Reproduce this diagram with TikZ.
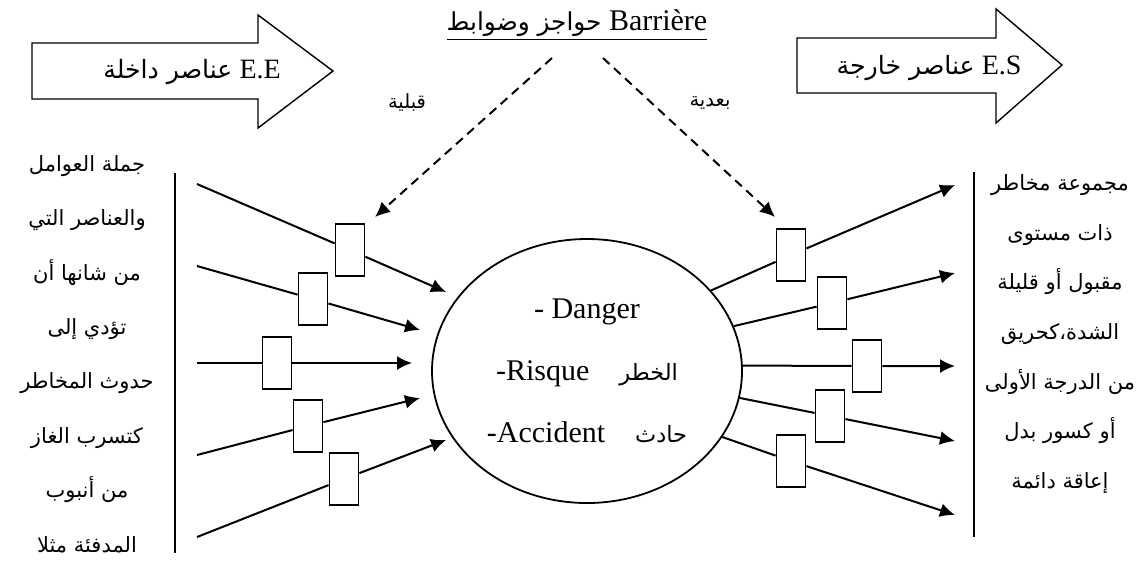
\documentclass[tikz,border=0pt]{standalone}
\usepackage{fontspec}
\setmainfont{Liberation Serif}
\newfontfamily\arabicfont[Script=Arabic,Scale=0.75]{DejaVu Sans}
\TeXXeTstate=1
\usetikzlibrary{shapes.geometric,arrows.meta}
\newcommand\artext[1]{{\arabicfont\beginR#1\endR}}
\tikzset{
  flow/.style={line width=1pt,-{Latex[length=7.5pt,width=7pt]}},
  barrier/.style={flow,dash pattern=on 4.5pt off 3pt},
  gate/.style={draw,line width=0.9pt,fill=white,minimum width=14.5pt,minimum height=26pt,inner sep=0pt},
  bigarrow/.style={line width=0.7pt},
  rulebar/.style={line width=1pt},
}
\begin{document}
\begin{tikzpicture}[x=0.5pt,y=-0.5pt]
  \useasboundingbox (0,0) rectangle (1144,564);
  % entering and leaving elements
  \draw[bigarrow] (32,43) -- (258,43) -- (258,15) -- (333,71) -- (258,128) -- (258,99) -- (32,99) -- cycle;
  \draw[bigarrow] (797,38) -- (996,38) -- (996,9) -- (1062,65) -- (996,123) -- (996,93) -- (797,93) -- cycle;
  \node[font=\fontsize{14}{16}\selectfont] (inlabel) at (192,72) {\artext{\fontsize{16.8}{19}\selectfont عناصر داخلة} E.E};
  \node[font=\fontsize{14}{16}\selectfont] (outlabel) at (929,68) {\artext{\fontsize{16.8}{19}\selectfont عناصر خارجة} E.S};
  % barrier title
  \node[font=\fontsize{15}{17}\selectfont] (title) at (577,25) {\underline{\artext{\fontsize{16.5}{19}\selectfont حواجز وضوابط} Barrière}};
  \coordinate (bl) at (552,58);
  \coordinate (br) at (603,58);
  \coordinate (pre) at (375,217);
  \coordinate (post) at (775,217);
  \node[font=\fontsize{13}{15}\selectfont] (before) at (407,103) {\artext{قبلية}};
  \node[font=\fontsize{13}{15}\selectfont] (after) at (710,103) {\artext{بعدية}};
  % central event
  \node[ellipse,draw,line width=0.9pt,minimum width=155pt,minimum height=132pt,inner sep=0pt,
        align=center,font=\fontsize{15}{31}\selectfont] (core) at (587,371)
    {- Danger\\-Risque\quad\artext{الخطر}\\-Accident\quad\artext{حادث}};
  % side texts
  \draw[rulebar] (175,173) -- (175,553);
  \draw[rulebar] (974,172) -- (974,537);
  \node[align=center,font=\fontsize{14}{27.2}\selectfont] (causes) at (87,354)
    {\artext{جملة العوامل}\\\artext{والعناصر التي}\\\artext{من شانها أن}\\\artext{تؤدي إلى}\\
     \artext{حدوث المخاطر}\\\artext{كتسرب الغاز}\\\artext{من أنبوب}\\\artext{المدفئة مثلا}};
  \node[align=center,font=\fontsize{14}{24.8}\selectfont] (effects) at (1060,334)
    {\artext{مجموعة مخاطر}\\\artext{ذات مستوى}\\\artext{مقبول أو قليلة}\\\artext{الشدة،كحريق}\\
     \artext{من الدرجة الأولى}\\\artext{أو كسور بدل}\\\artext{إعاقة دائمة}};
  % incoming flows
  \coordinate (i1) at (197,184);
  \coordinate (i2) at (197,266);
  \coordinate (i3) at (197,363);
  \coordinate (i4) at (197,455);
  \coordinate (i5) at (197,537);
  \coordinate (t1) at (446,292);
  \coordinate (t2) at (420,330);
  \coordinate (t3) at (412,363);
  \coordinate (t4) at (420,398);
  \coordinate (t5) at (446,440);
  \node[gate] (g1) at (350,250) {};
  \node[gate] (g2) at (313,299) {};
  \node[gate] (g3) at (277,363) {};
  \node[gate] (g4) at (308,426) {};
  \node[gate] (g5) at (344,479) {};
  \draw[flow] (i1) -- (g1) -- (t1);
  \draw[flow] (i2) -- (g2) -- (t2);
  \draw[flow] (i3) -- (g3) -- (t3);
  \draw[flow] (i4) -- (g4) -- (t4);
  \draw[flow] (i5) -- (g5) -- (t5);
  % outgoing flows
  \coordinate (o1) at (955,185);
  \coordinate (o2) at (955,273);
  \coordinate (o3) at (955,366);
  \coordinate (o4) at (955,441);
  \coordinate (o5) at (955,515);
  \node[gate] (g6) at (791,255) {};
  \node[gate] (g7) at (832,303) {};
  \node[gate] (g8) at (867,366) {};
  \node[gate] (g9) at (830,416) {};
  \node[gate] (g10) at (791,461) {};
  \draw[flow] (core.33) -- (g6) -- (o1);
  \draw[flow] (core.17) -- (g7) -- (o2);
  \draw[flow] (core.2) -- (g8) -- (o3);
  \draw[flow] (core.-10) -- (g9) -- (o4);
  \draw[flow] (core.-26) -- (g10) -- (o5);
  % barriers
  \draw[barrier] (bl) -- (pre);
  \draw[barrier] (br) -- (post);
\end{tikzpicture}
\end{document}
